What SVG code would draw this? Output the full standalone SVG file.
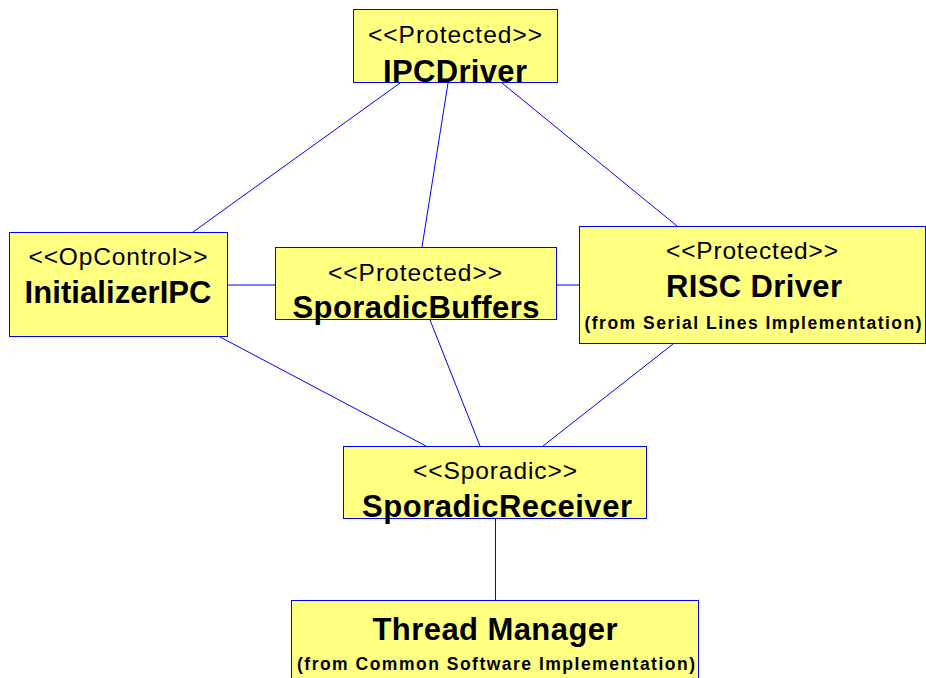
<svg xmlns="http://www.w3.org/2000/svg" width="926" height="678" viewBox="0 0 926 678">
<style>
.box{fill:#ffff80;stroke:#0000ff;stroke-width:1}
.st{font-family:"Liberation Sans",Arial,sans-serif;font-size:24.5px;fill:#000;text-anchor:middle}
.nm{font-family:"Liberation Sans",Arial,sans-serif;font-size:31px;font-weight:bold;fill:#000;text-anchor:middle}
.fr{font-family:"Liberation Sans",Arial,sans-serif;font-size:17.5px;font-weight:bold;fill:#000;text-anchor:middle}
.cn{stroke:#0000ff;stroke-width:1;fill:none}
</style>
<rect width="926" height="678" fill="#fff"/>
<g id="connectors">
<line class="cn" x1="400" y1="83" x2="193" y2="232"/>
<line class="cn" x1="448" y1="83" x2="422" y2="247"/>
<line class="cn" x1="502" y1="83" x2="677" y2="226"/>
<line class="cn" x1="227" y1="285" x2="275" y2="285"/>
<line class="cn" x1="556" y1="285" x2="579" y2="285"/>
<line class="cn" x1="220" y1="337" x2="426" y2="446"/>
<line class="cn" x1="430" y1="320" x2="480" y2="446"/>
<line class="cn" x1="673" y1="344" x2="543" y2="446"/>
<line class="cn" x1="495.5" y1="518" x2="495.5" y2="600"/>
</g>
<g id="IPCDriver">
<rect class="box" x="353.5" y="9.5" width="204" height="73"/>
<text class="st" x="455" y="43" textLength="174">&lt;&lt;Protected&gt;&gt;</text>
<text class="nm" x="455" y="82" textLength="144">IPCDriver</text>
</g>
<g id="InitializerIPC">
<rect class="box" x="9.5" y="232.5" width="218" height="104"/>
<text class="st" x="118" y="265" textLength="179">&lt;&lt;OpControl&gt;&gt;</text>
<text class="nm" x="118" y="303" textLength="187">InitializerIPC</text>
</g>
<g id="SporadicBuffers">
<rect class="box" x="275.5" y="247.5" width="281" height="72"/>
<text class="st" x="415" y="281" textLength="174">&lt;&lt;Protected&gt;&gt;</text>
<text class="nm" x="416" y="318" textLength="247">SporadicBuffers</text>
</g>
<g id="RISCDriver">
<rect class="box" x="579.5" y="226.5" width="346" height="117"/>
<text class="st" x="752" y="259" textLength="172">&lt;&lt;Protected&gt;&gt;</text>
<text class="nm" x="754" y="297" textLength="176">RISC Driver</text>
<text class="fr" x="753" y="329" textLength="337">(from Serial Lines Implementation)</text>
</g>
<g id="SporadicReceiver">
<rect class="box" x="343.5" y="446.5" width="303" height="72"/>
<text class="st" x="495" y="479" textLength="164">&lt;&lt;Sporadic&gt;&gt;</text>
<text class="nm" x="497" y="517" textLength="270">SporadicReceiver</text>
</g>
<g id="ThreadManager">
<rect class="box" x="291.5" y="600.5" width="407" height="90"/>
<text class="nm" x="495" y="640" textLength="245">Thread Manager</text>
<text class="fr" x="496" y="670" textLength="398">(from Common Software Implementation)</text>
</g>
</svg>
